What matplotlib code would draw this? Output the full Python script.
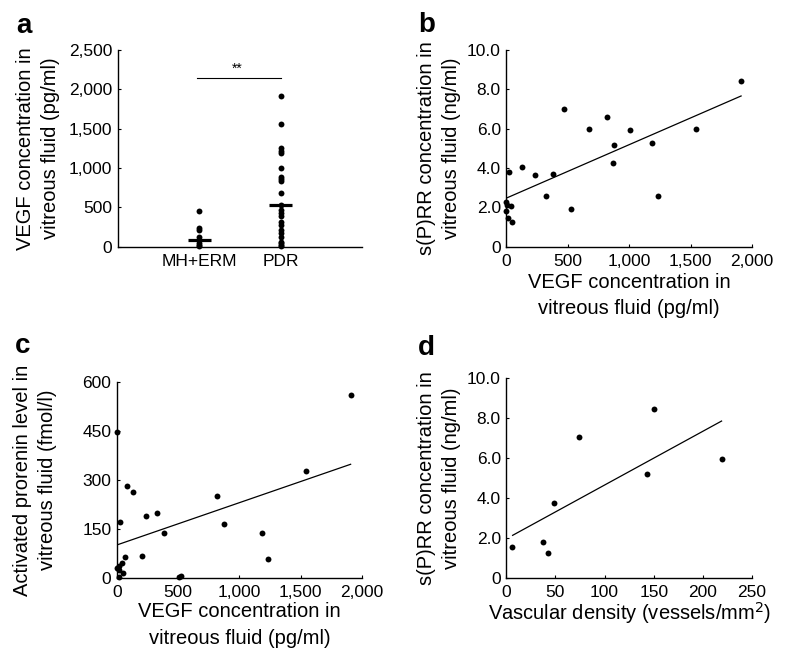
import matplotlib
matplotlib.use("Agg")
import matplotlib.pyplot as plt

plt.rcParams["font.family"] = ["Liberation Sans", "DejaVu Sans"]

# ==========================
# DATA
# ==========================

group_names = ["MH+ERM", "PDR"]
vegf_mh_erm = [460, 240, 215, 125, 90, 50, 25, 5]
vegf_pdr = [1915, 1555, 1250, 1220, 1190, 1005, 890, 860, 830, 680,
            530, 470, 435, 385, 320, 280, 215, 175, 130, 65, 45, 25, 5]
group_medians = [90, 525]

vegf_b = [1911, 472, 816, 675, 1003, 1545, 878, 1184, 870, 125, 19,
          230, 380, 322, 1233, 526, 0, 8, 40, 0, 10, 50]
sprr_b = [8.39, 7.0, 6.6, 5.99, 5.9, 6.0, 5.18, 5.26, 4.23, 4.06, 3.8,
          3.64, 3.69, 2.6, 2.6, 1.9, 2.25, 2.1, 2.05, 1.8, 1.48, 1.24]
fit_b_x = [0, 1911]
fit_b_y = [2.47, 7.65]

vegf_c = [1908, 2, 1543, 84, 133, 816, 329, 234, 27, 871, 381, 1184,
          1235, 206, 63, 43, 14, 3, 19, 51, 19, 520, 505]
prorenin_c = [560, 447, 327, 280, 262, 250, 198, 190, 171, 165, 137, 139,
              58, 67, 63, 47, 37, 30, 24, 16, 4, 6, 3]
fit_c_x = [0, 1908]
fit_c_y = [101, 348]

density_d = [6, 37, 42, 49, 74, 143, 150, 219]
sprr_d = [1.53, 1.82, 1.23, 3.73, 7.05, 5.22, 8.45, 5.95]
fit_d_x = [6.4, 219]
fit_d_y = [2.13, 7.85]

# ==========================
# FIGURE
# ==========================

fig = plt.figure(figsize=(7.85, 6.53), dpi=100)

ax_a = fig.add_axes([0.150, 0.622, 0.311, 0.302])
ax_b = fig.add_axes([0.645, 0.622, 0.313, 0.302])
ax_c = fig.add_axes([0.149, 0.115, 0.312, 0.300])
ax_d = fig.add_axes([0.645, 0.115, 0.313, 0.306])

label_size = 14.5
tick_size = 12.5
x_spacing = 1.5
y_spacing = 1.4


def style_axes(ax):
    ax.spines["top"].set_visible(False)
    ax.spines["right"].set_visible(False)
    ax.spines["left"].set_linewidth(1.0)
    ax.spines["bottom"].set_linewidth(1.0)
    ax.tick_params(direction="in", length=2.5, width=0.8,
                   labelsize=tick_size)
    ax.tick_params(axis="y", pad=4)
    ax.tick_params(axis="x", pad=5)


dot_style = dict(s=18, color="black", clip_on=False, zorder=3,
                 linewidths=0)

# ==========================
# PANEL A
# ==========================

style_axes(ax_a)
ax_a.scatter([1] * len(vegf_mh_erm), vegf_mh_erm, **dot_style)
ax_a.scatter([2] * len(vegf_pdr), vegf_pdr, **dot_style)
for pos, med in zip([1, 2], group_medians):
    ax_a.plot([pos - 0.14, pos + 0.14], [med, med],
              color="black", lw=2.3, solid_capstyle="butt", zorder=4)

ax_a.plot([0.97, 2.0], [2140, 2140], color="black", lw=0.8)
ax_a.text(1.47, 2165, "**", ha="center", va="bottom", fontsize=10)

ax_a.set_xlim(0, 3)
ax_a.set_ylim(0, 2500)
ax_a.set_xticks([1, 2])
ax_a.set_xticklabels(group_names)
ax_a.set_yticks([0, 500, 1000, 1500, 2000, 2500])
ax_a.set_yticklabels(["0", "500", "1,000", "1,500", "2,000", "2,500"])
ax_a.set_ylabel("VEGF concentration in\nvitreous fluid (pg/ml)",
                fontsize=label_size, linespacing=y_spacing)
ax_a.yaxis.set_label_coords(-0.238, 0.5)

# ==========================
# PANEL B
# ==========================

style_axes(ax_b)
ax_b.scatter(vegf_b, sprr_b, **dot_style)
ax_b.plot(fit_b_x, fit_b_y, color="black", lw=0.9)
ax_b.set_xlim(0, 2000)
ax_b.set_ylim(0, 10)
ax_b.set_xticks([0, 500, 1000, 1500, 2000])
ax_b.set_xticklabels(["0", "500", "1,000", "1,500", "2,000"])
ax_b.set_yticks([0, 2, 4, 6, 8, 10])
ax_b.set_yticklabels(["0", "2.0", "4.0", "6.0", "8.0", "10.0"])
ax_b.set_ylabel("s(P)RR concentration in\nvitreous fluid (ng/ml)",
                fontsize=label_size, linespacing=y_spacing)
ax_b.yaxis.set_label_coords(-0.183, 0.5)
ax_b.set_xlabel("VEGF concentration in\nvitreous fluid (pg/ml)",
                fontsize=label_size, linespacing=x_spacing)
ax_b.xaxis.set_label_coords(0.5, -0.132)

# ==========================
# PANEL C
# ==========================

style_axes(ax_c)
ax_c.scatter(vegf_c, prorenin_c, **dot_style)
ax_c.plot(fit_c_x, fit_c_y, color="black", lw=0.9)
ax_c.set_xlim(0, 2000)
ax_c.set_ylim(0, 600)
ax_c.set_xticks([0, 500, 1000, 1500, 2000])
ax_c.set_xticklabels(["0", "500", "1,000", "1,500", "2,000"])
ax_c.set_yticks([0, 150, 300, 450, 600])
ax_c.set_yticklabels(["0", "150", "300", "450", "600"])
ax_c.set_ylabel("Activated prorenin level in\nvitreous fluid (fmol/l)",
                fontsize=label_size, linespacing=y_spacing)
ax_c.yaxis.set_label_coords(-0.245, 0.5)
ax_c.set_xlabel("VEGF concentration in\nvitreous fluid (pg/ml)",
                fontsize=label_size, linespacing=x_spacing)
ax_c.xaxis.set_label_coords(0.5, -0.124)

# ==========================
# PANEL D
# ==========================

style_axes(ax_d)
ax_d.scatter(density_d, sprr_d, **dot_style)
ax_d.plot(fit_d_x, fit_d_y, color="black", lw=0.9)
ax_d.set_xlim(0, 250)
ax_d.set_ylim(0, 10)
ax_d.set_xticks([0, 50, 100, 150, 200, 250])
ax_d.set_yticks([0, 2, 4, 6, 8, 10])
ax_d.set_yticklabels(["0", "2.0", "4.0", "6.0", "8.0", "10.0"])
ax_d.set_ylabel("s(P)RR concentration in\nvitreous fluid (ng/ml)",
                fontsize=label_size, linespacing=y_spacing)
ax_d.yaxis.set_label_coords(-0.183, 0.5)
ax_d.set_xlabel("Vascular density (vessels/mm$^2$)", fontsize=label_size)
ax_d.xaxis.set_label_coords(0.5, -0.11)

# ==========================
# PANEL LETTERS
# ==========================

for letter, x, y in [("a", 16, 33), ("b", 418, 32),
                     ("c", 15, 353), ("d", 418, 355)]:
    fig.text(x / 785, 1 - y / 653, letter, fontsize=20,
             fontweight="bold", ha="left", va="baseline")

fig.savefig("out.png", dpi=100)
